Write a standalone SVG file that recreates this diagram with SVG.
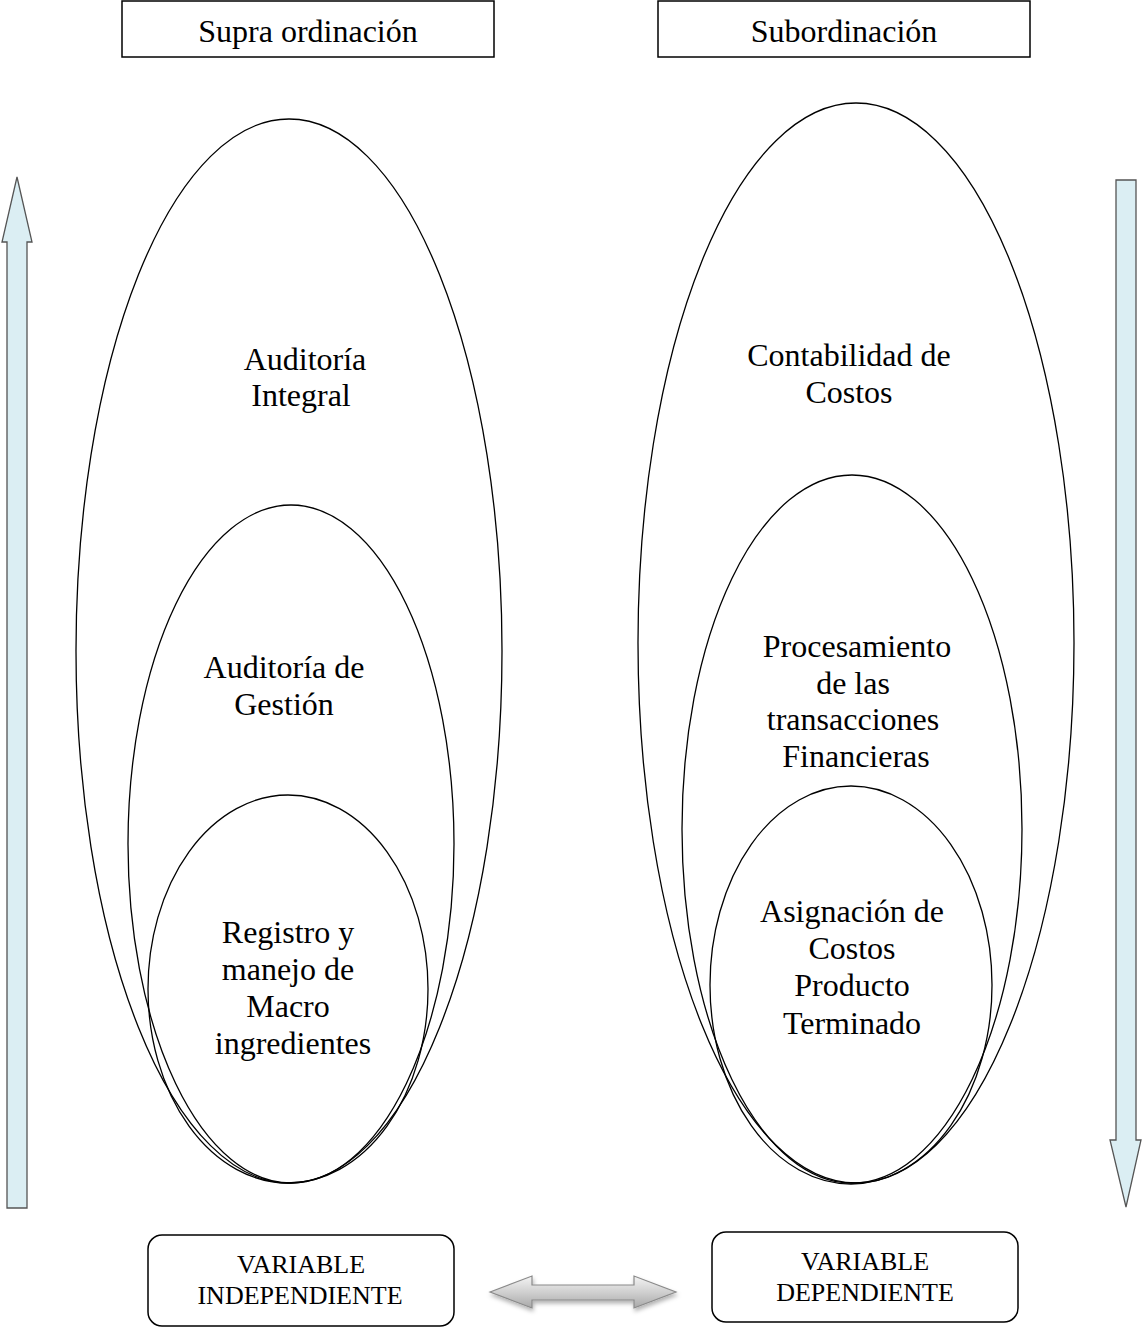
<svg xmlns="http://www.w3.org/2000/svg" width="1144" height="1328" viewBox="0 0 1144 1328">
  <defs>
    <style>
      .box { fill: #fff; stroke: #000; stroke-width: 1.5; }
      .ell { fill: none; stroke: #000; stroke-width: 1.3; }
      .vbar { fill: #dbeef3; stroke: #555; stroke-width: 1.3; }
      .t { font-family: "Liberation Serif", "Times New Roman", serif; font-size: 32px; fill: #000; text-anchor: middle; }
      .s { font-family: "Liberation Serif", "Times New Roman", serif; font-size: 26px; fill: #000; text-anchor: middle; }
    </style>
    <linearGradient id="grey" x1="0" y1="0" x2="0" y2="1">
      <stop offset="0" stop-color="#f4f4f4"/>
      <stop offset="0.5" stop-color="#d0d0d0"/>
      <stop offset="1" stop-color="#a8a8a8"/>
    </linearGradient>
    <filter id="soft" x="-10%" y="-30%" width="120%" height="170%">
      <feDropShadow dx="1" dy="3" stdDeviation="2" flood-color="#000" flood-opacity="0.3"/>
    </filter>
  </defs>

  <!-- header boxes -->
  <g id="supra">
    <rect class="box" x="122" y="1" width="372" height="56"/>
    <text class="t" x="308" y="42">Supra ordinación</text>
  </g>
  <g id="sub">
    <rect class="box" x="658" y="1" width="372" height="56"/>
    <text class="t" x="844" y="42">Subordinación</text>
  </g>

  <!-- vertical direction arrows -->
  <g id="arrow-up">
    <path class="vbar" d="M17,177 L32,242 L27,242 L27,1208 L7,1208 L7,242 L2,242 Z"/>
  </g>
  <g id="arrow-down">
    <path class="vbar" d="M1116,180 L1136,180 L1136,1140 L1141,1140 L1126,1207 L1110,1140 L1116,1140 Z"/>
  </g>

  <!-- left nested ellipses -->
  <g id="auditoria-integral">
    <ellipse class="ell" cx="289" cy="651" rx="213" ry="532"/>
    <text class="t" x="305" y="370">Auditoría</text>
    <text class="t" x="301" y="406">Integral</text>
  </g>
  <g id="auditoria-gestion">
    <ellipse class="ell" cx="291" cy="844" rx="163" ry="339"/>
    <text class="t" x="284" y="678">Auditoría de</text>
    <text class="t" x="284" y="715">Gestión</text>
  </g>
  <g id="registro">
    <ellipse class="ell" cx="288" cy="989" rx="140" ry="194"/>
    <text class="t" x="288" y="943">Registro y</text>
    <text class="t" x="288" y="980">manejo de</text>
    <text class="t" x="288" y="1017">Macro</text>
    <text class="t" x="293" y="1054">ingredientes</text>
  </g>

  <!-- right nested ellipses -->
  <g id="contabilidad">
    <ellipse class="ell" cx="856" cy="643" rx="218" ry="540"/>
    <text class="t" x="849" y="366">Contabilidad de</text>
    <text class="t" x="849" y="403">Costos</text>
  </g>
  <g id="procesamiento">
    <ellipse class="ell" cx="852" cy="829" rx="170" ry="354"/>
    <text class="t" x="857" y="657">Procesamiento</text>
    <text class="t" x="853" y="694">de las</text>
    <text class="t" x="853" y="730">transacciones</text>
    <text class="t" x="856" y="767">Financieras</text>
  </g>
  <g id="asignacion">
    <ellipse class="ell" cx="851" cy="985" rx="141" ry="199"/>
    <text class="t" x="852" y="922">Asignación de</text>
    <text class="t" x="852" y="959">Costos</text>
    <text class="t" x="852" y="996">Producto</text>
    <text class="t" x="852" y="1034">Terminado</text>
  </g>

  <!-- variable boxes -->
  <g id="var-indep">
    <rect class="box" x="148" y="1235" width="306" height="91" rx="14" stroke-width="1"/>
    <text class="s" x="301" y="1273">VARIABLE</text>
    <text class="s" x="300" y="1304">INDEPENDIENTE</text>
  </g>
  <g id="var-dep">
    <rect class="box" x="712" y="1232" width="306" height="90" rx="14" stroke-width="1"/>
    <text class="s" x="865" y="1270">VARIABLE</text>
    <text class="s" x="865" y="1301">DEPENDIENTE</text>
  </g>

  <!-- relation between variables -->
  <g id="connectors">
    <path d="M490,1292 L532,1276 L532,1285 L634,1285 L634,1276 L676,1292 L634,1308 L634,1300 L532,1300 L532,1308 Z" fill="url(#grey)" stroke="#8a8a8a" stroke-width="1.2" filter="url(#soft)"/>
  </g>
</svg>
